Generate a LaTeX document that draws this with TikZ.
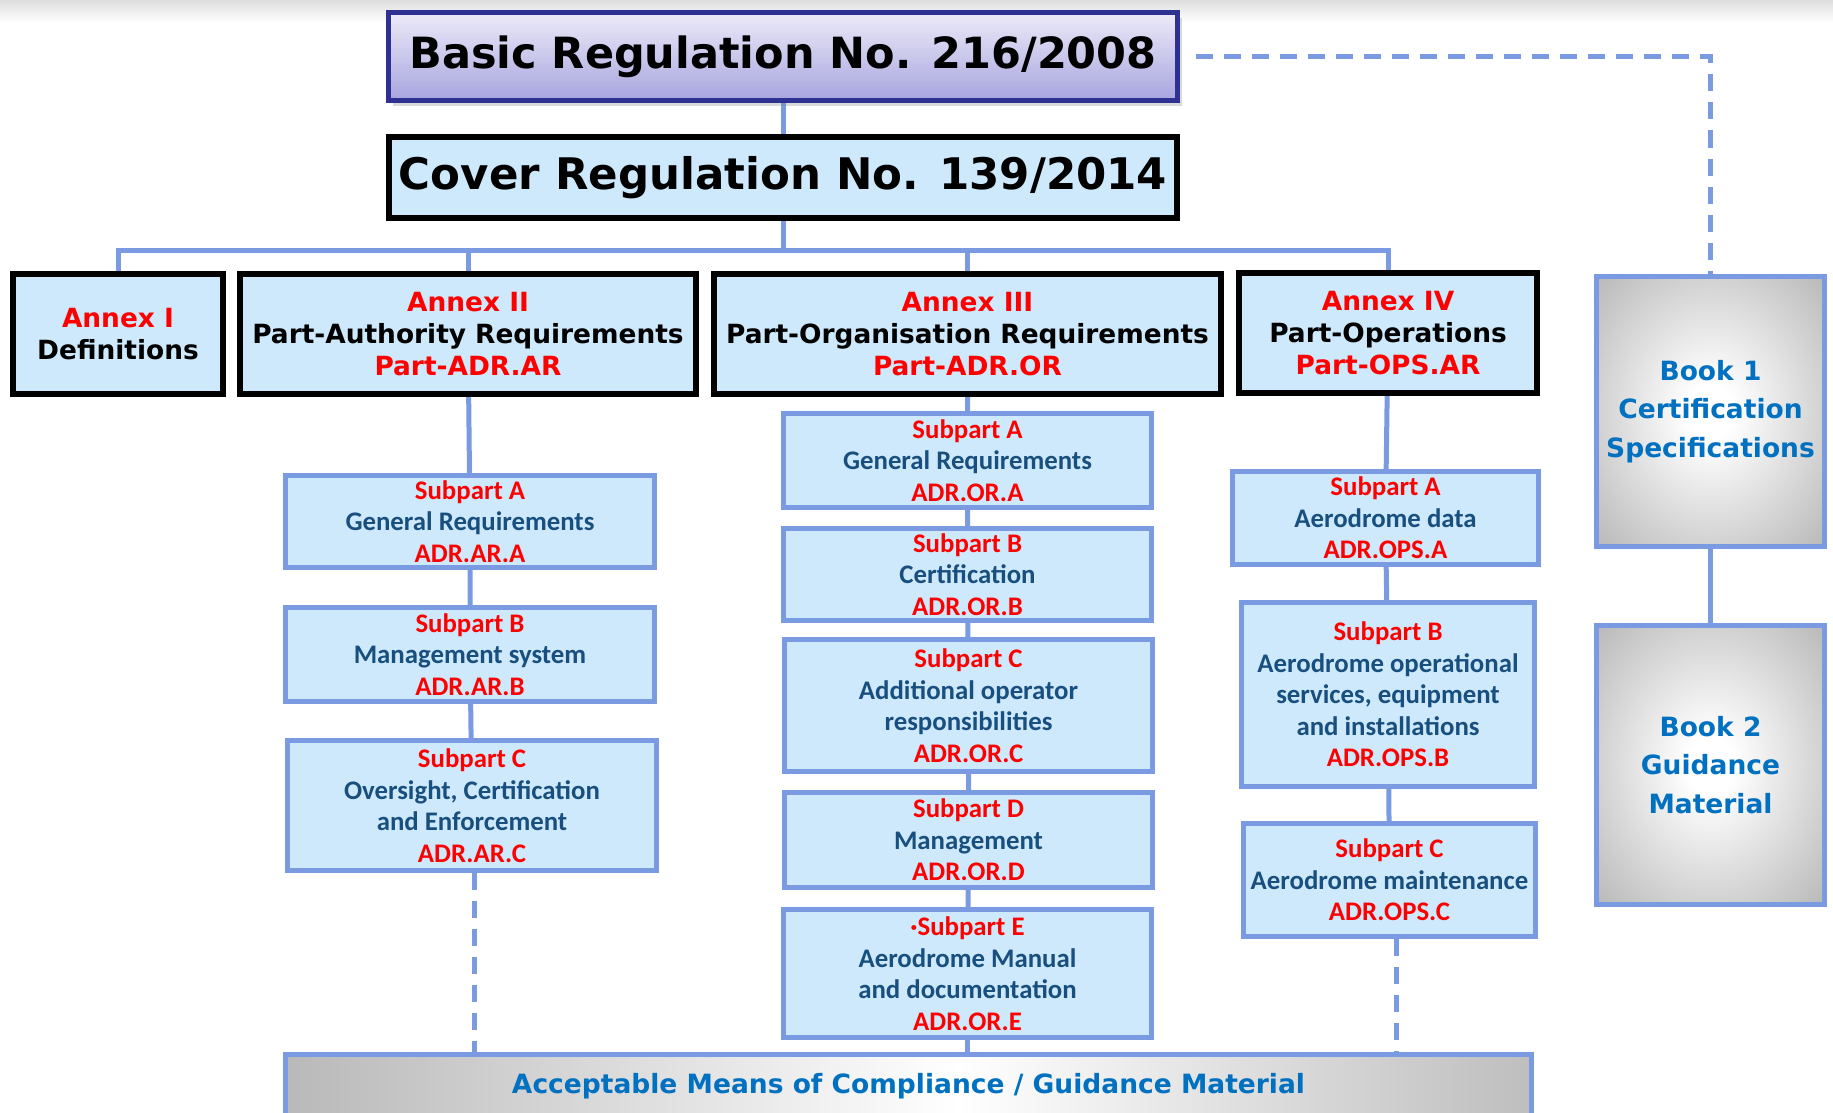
\documentclass[tikz,border=0pt]{standalone}
\usepackage{fontspec}
\setmainfont{DejaVu Sans}
\newfontfamily\calfont{Carlito}
\usetikzlibrary{shadows,backgrounds}
\definecolor{boxblue}{RGB}{205,233,251}
\definecolor{linkblue}{RGB}{122,155,226}
\definecolor{subblue}{RGB}{24,79,126}
\definecolor{bookblue}{RGB}{0,112,192}
\definecolor{navy}{RGB}{46,49,146}
\definecolor{lavtop}{RGB}{236,234,248}
\definecolor{lavbot}{RGB}{166,164,222}
\pgfdeclareradialshading{bookshade}{\pgfpoint{0bp}{0bp}}{color(0bp)=(white); color(5bp)=(white); color(38bp)=(black!30); color(50bp)=(black!42); color(71bp)=(black!55)}
\pgfdeclarehorizontalshading{amcshade}{100bp}{color(0bp)=(black!53); color(52bp)=(white); color(100bp)=(black!53)}
\tikzset{basicbox/.style={
    draw=navy, line width=5pt,
    top color=lavtop, bottom color=lavbot,
    drop shadow={shadow xshift=4pt, shadow yshift=-5pt, opacity=0.3},
    font=\bfseries\fontsize{43}{50}\selectfont},
  coverbox/.style={
    draw=black, line width=6pt, fill=boxblue,
    font=\bfseries\fontsize{43.5}{50}\selectfont},
  annexbox/.style={
    draw=black, line width=6pt, fill=boxblue, align=center,
    minimum height=120pt,
    font=\bfseries\fontsize{26.4}{32}\selectfont},
  subbox/.style={
    draw=linkblue, line width=5pt, fill=boxblue, align=center,
    text=subblue, font=\calfont\bfseries\fontsize{26.8}{31.5}\selectfont},
  bookbox/.style={
    draw=linkblue, line width=5pt, shade, shading=bookshade, align=center,
    minimum width=228pt, text=bookblue,
    font=\bfseries\fontsize{26.5}{38.5}\selectfont},
  amcbox/.style={
    draw=linkblue, line width=5pt, shade, shading=amcshade,
    text=bookblue, font=\bfseries\fontsize{26.5}{30}\selectfont},
  link/.style={
    draw=linkblue, line width=5pt},
  dashlink/.style={
    link, dash pattern=on 17pt off 11pt}}

\begin{document}
\begin{tikzpicture}[x=1pt,y=-1pt]
\useasboundingbox (0,0) rectangle (1833,1113);
\shade[top color=black!13, bottom color=white] (0,0) rectangle (1833,22);

	\coordinate (bus) at (783,250);

\node[basicbox, minimum width=789pt, minimum height=88pt] (basic) at (783,57) {Basic Regulation No. 216/2008};
\node[coverbox, minimum width=788pt, minimum height=81pt] (cover) at (783,177.5) {Cover Regulation No. 139/2014};

\node[annexbox, minimum width=210pt] (annexI) at (118,334) {\textcolor{red}{Annex I}\\Definitions};
\node[annexbox, minimum width=456pt] (annexII) at (468,334) {\textcolor{red}{Annex II}\\Part-Authority Requirements\\\textcolor{red}{Part-ADR.AR}};
\node[annexbox, minimum width=507pt] (annexIII) at (967.5,334) {\textcolor{red}{Annex III}\\Part-Organisation Requirements\\\textcolor{red}{Part-ADR.OR}};
\node[annexbox, minimum width=298pt] (annexIV) at (1388,333) {\textcolor{red}{Annex IV}\\Part-Operations\\\textcolor{red}{Part-OPS.AR}};

\node[subbox, minimum width=369pt, minimum height=92pt] (arA) at (470,521.5) {\textcolor{red}{Subpart A}\\General Requirements\\\textcolor{red}{ADR.AR.A}};
\node[subbox, minimum width=369pt, minimum height=94pt] (arB) at (470,654.5) {\textcolor{red}{Subpart B}\\Management system\\\textcolor{red}{ADR.AR.B}};
\node[subbox, minimum width=369pt, minimum height=130pt] (arC) at (472,805.5) {\textcolor{red}{Subpart C}\\Oversight, Certification\\and Enforcement\\\textcolor{red}{ADR.AR.C}};

\node[subbox, minimum width=368pt, minimum height=94pt] (orA) at (967.5,460.5) {\textcolor{red}{Subpart A}\\General Requirements\\\textcolor{red}{ADR.OR.A}};
\node[subbox, minimum width=368pt, minimum height=92pt] (orB) at (967.5,574.5) {\textcolor{red}{Subpart B}\\Certification\\\textcolor{red}{ADR.OR.B}};
\node[subbox, minimum width=368pt, minimum height=132pt] (orC) at (968.5,705.5) {\textcolor{red}{Subpart C}\\Additional operator\\responsibilities\\\textcolor{red}{ADR.OR.C}};
\node[subbox, minimum width=368pt, minimum height=95pt] (orD) at (968.5,840) {\textcolor{red}{Subpart D}\\Management\\\textcolor{red}{ADR.OR.D}};
\node[subbox, minimum width=368pt, minimum height=128pt] (orE) at (967.5,973.5) {\textcolor{red}{·Subpart E}\\Aerodrome Manual\\and documentation\\\textcolor{red}{ADR.OR.E}};

\node[subbox, minimum width=306pt, minimum height=93pt] (opsA) at (1385.5,518) {\textcolor{red}{Subpart A}\\Aerodrome data\\\textcolor{red}{ADR.OPS.A}};
\node[subbox, minimum width=293pt, minimum height=184pt] (opsB) at (1388,694.5) {\textcolor{red}{Subpart B}\\Aerodrome operational\\services, equipment\\and installations\\\textcolor{red}{ADR.OPS.B}};
\node[subbox, minimum width=292pt, minimum height=113pt] (opsC) at (1389.5,880) {\textcolor{red}{Subpart C}\\Aerodrome maintenance\\\textcolor{red}{ADR.OPS.C}};

\node[bookbox, minimum height=270pt] (book1) at (1710.5,411.5) {Book 1\\Certification\\Specifications};
\node[bookbox, minimum height=279pt] (book2) at (1710.5,765) {Book 2\\Guidance\\Material};

\node[amcbox, minimum width=1246pt, minimum height=64pt] (amc) at (908.5,1086) {Acceptable Means of Compliance / Guidance Material};

\begin{scope}[on background layer]
\path[link] (basic) -- (cover);
\path[link] (cover) -- (bus);
\path[link] (annexI.north) |- (bus) -| (annexIV.north);
\path[link] (annexII.north) -- (annexII.north |- bus);
\path[link] (annexIII.north) -- (annexIII.north |- bus);
\path[link] (annexII) -- (arA) -- (arB) -- (arC);
\path[link] (annexIII) -- (orA) -- (orB) -- (orC) -- (orD) -- (orE);
\path[link] (orE) -- (orE |- amc);
\path[link] (annexIV) -- (opsA) -- (opsB) -- (opsC);
\path[dashlink] ([xshift=2pt]arC.south) -- ([xshift=2pt]arC.south |- amc.north);
\path[dashlink] ([xshift=7pt]opsC.south) -- ([xshift=7pt]opsC.south |- amc.north);
\path[dashlink] ([xshift=16pt]basic.east) -| (book1.north);
\path[link] (book1) -- (book2);
\end{scope}
\end{tikzpicture}
\end{document}
